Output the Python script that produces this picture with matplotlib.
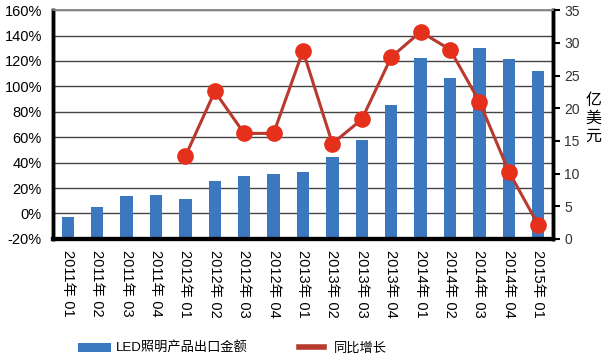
import matplotlib
matplotlib.use("Agg")
import matplotlib.pyplot as plt
from matplotlib.patches import Patch
from matplotlib.lines import Line2D

plt.rcParams['font.family'] = ['Liberation Sans', 'Noto Sans CJK SC', 'DejaVu Sans']

# data
periods = ["2011年 01", "2011年 02", "2011年 03", "2011年 04",
           "2012年 01", "2012年 02", "2012年 03", "2012年 04",
           "2013年 01", "2013年 02", "2013年 03", "2013年 04",
           "2014年 01", "2014年 02", "2014年 03", "2014年 04",
           "2015年 01"]
export_value = [3.4, 4.9, 6.6, 6.7, 6.1, 8.9, 9.6, 9.9, 10.2,
                12.5, 15.1, 20.5, 27.7, 24.6, 29.2, 27.5, 25.7]
growth_idx = list(range(4, 17))
growth_pct = [45, 96, 63, 63, 128, 55, 74, 123, 143, 129, 88, 33, -9]

pct_ticks = list(range(-20, 161, 20))
val_ticks = list(range(0, 36, 5))

bar_color = "#3b78c0"
line_color = "#b83a2e"
dot_color = "#e5301c"

fig = plt.figure(figsize=(6.13, 3.63), dpi=100)
ax_line = fig.add_axes([0.0865, 0.342, 0.8155, 0.630])
ax_bar = ax_line.twinx()

x = list(range(len(periods)))

# bars (right axis), drawn below the line axes
ax_bar.set_zorder(1)
ax_line.set_zorder(2)
ax_line.patch.set_visible(False)

ax_bar.hlines(pct_ticks, -0.5, len(periods) - 0.5, colors="#444444", linewidth=1.0,
              transform=ax_line.transData, zorder=0)
ax_bar.bar(x, export_value, width=0.42, color=bar_color, zorder=2)
ax_bar.set_ylim(0, 35)
ax_bar.set_yticks(val_ticks)
ax_bar.tick_params(axis='y', direction='out', length=5, width=1.5, labelsize=10,
                   labelcolor="#333333", pad=3)

# line (left axis)
ax_line.plot(growth_idx, growth_pct, color=line_color, linewidth=2.2,
             marker='o', markersize=11, markerfacecolor=dot_color,
             markeredgecolor=dot_color, zorder=3)
ax_line.set_ylim(-20, 160)
ax_line.set_yticks(pct_ticks)
ax_line.set_yticklabels([f"{t}%" for t in pct_ticks])
ax_line.tick_params(axis='y', length=0, labelsize=10.5, pad=8)
ax_line.set_xlim(-0.5, len(periods) - 0.5)
ax_line.set_xticks(x)
ax_line.set_xticklabels(periods, rotation=-90, fontsize=10.5)
ax_line.tick_params(axis='x', length=0, pad=8)

for a in (ax_line, ax_bar):
    a.spines['top'].set_color("#888888")
    a.spines['top'].set_linewidth(1.2)
    a.spines['left'].set_linewidth(2.5)
    a.spines['right'].set_linewidth(2.5)
    a.spines['bottom'].set_linewidth(3)

# unit label, one character per line
for i, ch in enumerate("亿美元"):
    fig.text(0.968, 0.722 - i * 0.049, ch, fontsize=11.5, ha='center', va='center',
             family=['Noto Sans CJK SC', 'DejaVu Sans'])

leg1 = fig.legend([Patch(facecolor=bar_color, edgecolor='none')], ["LED照明产品出口金额"],
                  loc='center left', bbox_to_anchor=(0.128, 0.04), frameon=False,
                  fontsize=9.5, handlelength=2.5, handletextpad=0.3,
                  borderpad=0, borderaxespad=0)
leg2 = fig.legend([Line2D([0], [0], color=line_color, linewidth=4)], ["同比增长"],
                  loc='center left', bbox_to_anchor=(0.487, 0.04), frameon=False,
                  fontsize=9.5, handlelength=1.9, handletextpad=0.75,
                  borderpad=0, borderaxespad=0)

fig.savefig("out.png", dpi=100)
